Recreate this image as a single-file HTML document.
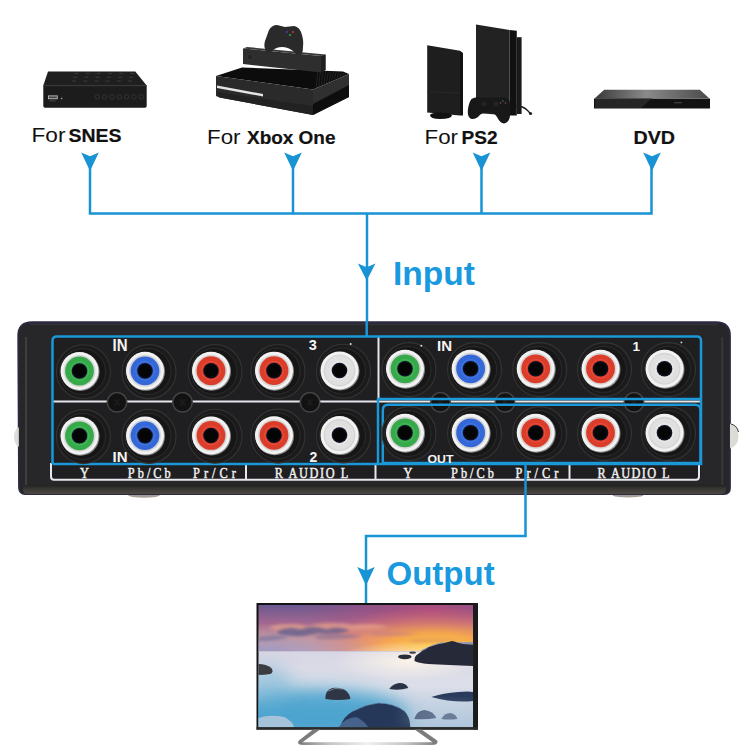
<!DOCTYPE html>
<html><head><meta charset="utf-8">
<style>
html,body{margin:0;padding:0;background:#fff;width:750px;height:750px;overflow:hidden}
svg{display:block}
text{font-family:"Liberation Sans",sans-serif}
.lbl text{font-family:"Liberation Serif",serif;font-weight:normal;fill:#f2f2f2;stroke:#f2f2f2;stroke-width:0.45}
</style></head><body>
<svg width="750" height="750" viewBox="0 0 750 750">
<defs>
  <linearGradient id="sky" x1="0" y1="0" x2="0" y2="1">
    <stop offset="0" stop-color="#6a5890"/>
    <stop offset="0.4" stop-color="#a46890"/>
    <stop offset="0.7" stop-color="#d8948a"/>
    <stop offset="1" stop-color="#d8a4a0"/>
  </linearGradient>
  <radialGradient id="skymag" cx="0.8" cy="0.1" r="0.6">
    <stop offset="0" stop-color="#b84a78" stop-opacity="0.85"/>
    <stop offset="1" stop-color="#b84a78" stop-opacity="0"/>
  </radialGradient>
  <linearGradient id="water" x1="0" y1="0" x2="0" y2="1">
    <stop offset="0" stop-color="#d8d6e4"/>
    <stop offset="0.45" stop-color="#dcdfe9"/>
    <stop offset="1" stop-color="#a8c2da"/>
  </linearGradient>
  <radialGradient id="sun" cx="0.75" cy="0.95" r="0.5">
    <stop offset="0" stop-color="#ffd27a"/>
    <stop offset="1" stop-color="#ffd27a" stop-opacity="0"/>
  </radialGradient>
<g id="jack">
    <circle cx="4" cy="0.8" r="27" fill="#1b1b1c" stroke="#343434" stroke-width="1.1"/>
    <circle cx="3" cy="0.6" r="23" fill="#161617" stroke="#2c2c2c" stroke-width="1"/>
    <circle cx="0.7" cy="0.7" r="19.3" fill="#8a8a8a"/>
    <circle r="19" fill="#f2f2f2"/>
    <circle r="16" fill="#d6d6d6"/>
  </g>
<radialGradient id="skyglow" cx="0.82" cy="0.95" r="0.6" gradientTransform="translate(0.82,0.95) scale(1,1.5) translate(-0.82,-0.95)">
    <stop offset="0" stop-color="#ffd040" stop-opacity="1"/>
    <stop offset="0.4" stop-color="#f8a848" stop-opacity="0.9"/>
    <stop offset="0.75" stop-color="#e8806a" stop-opacity="0.4"/>
    <stop offset="1" stop-color="#e07070" stop-opacity="0"/>
  </radialGradient>
  <radialGradient id="skyleft" cx="0.05" cy="1" r="0.5" gradientTransform="translate(0.05,1) scale(1,1.2) translate(-0.05,-1)">
    <stop offset="0" stop-color="#9a9ac8" stop-opacity="0.9"/>
    <stop offset="1" stop-color="#9a9ac8" stop-opacity="0"/>
  </radialGradient>
  <radialGradient id="mist" cx="0.5" cy="0.5" r="0.5">
    <stop offset="0" stop-color="#fff6ea" stop-opacity="0.9"/>
    <stop offset="1" stop-color="#fff6ea" stop-opacity="0"/>
  </radialGradient>
  <linearGradient id="foot" x1="0" y1="0" x2="1" y2="0">
    <stop offset="0" stop-color="#8a8a8a"/>
    <stop offset="0.2" stop-color="#c4c4c4"/>
    <stop offset="0.5" stop-color="#f0f0f0"/>
    <stop offset="0.8" stop-color="#c4c4c4"/>
    <stop offset="1" stop-color="#8a8a8a"/>
  </linearGradient>
  <filter id="blur05" x="-20%" y="-20%" width="140%" height="140%"><feGaussianBlur stdDeviation="0.5"/></filter>
  <filter id="blur1" x="-20%" y="-50%" width="140%" height="200%"><feGaussianBlur stdDeviation="1.5"/></filter>
  <filter id="blur2" x="-50%" y="-50%" width="200%" height="200%"><feGaussianBlur stdDeviation="6"/></filter>
<linearGradient id="dvdtop" x1="0" y1="0" x2="1" y2="0">
    <stop offset="0" stop-color="#3a3a3a"/>
    <stop offset="0.45" stop-color="#8a8a8a"/>
    <stop offset="1" stop-color="#4a4a4a"/>
  </linearGradient>
<linearGradient id="boxbottom" x1="0" y1="0" x2="0" y2="1">
    <stop offset="0" stop-color="#222"/>
    <stop offset="0.45" stop-color="#3a3834"/>
    <stop offset="1" stop-color="#4c4842"/>
  </linearGradient>
<filter id="blur3" x="-50%" y="-50%" width="200%" height="200%"><feGaussianBlur stdDeviation="9"/></filter>
</defs>
<rect width="750" height="750" fill="#fff"/>

<!-- ===== TOP DEVICES ===== -->
<g id="snes">
  <polygon points="48,71.4 135.3,71.4 146.7,85.5 43.3,85.5" fill="#1f1f1f"/>
  <g fill="#363636">
    <rect x="74.5" y="72.8" width="3.8" height="1.3"/><rect x="73.3" y="76.6" width="3.8" height="1.3"/><rect x="72.1" y="80.4" width="3.8" height="1.3"/><rect x="85.7" y="72.8" width="3.8" height="1.3"/><rect x="84.5" y="76.6" width="3.8" height="1.3"/><rect x="83.3" y="80.4" width="3.8" height="1.3"/><rect x="96.9" y="72.8" width="3.8" height="1.3"/><rect x="95.7" y="76.6" width="3.8" height="1.3"/><rect x="94.5" y="80.4" width="3.8" height="1.3"/><rect x="108.1" y="72.8" width="3.8" height="1.3"/><rect x="106.9" y="76.6" width="3.8" height="1.3"/><rect x="105.7" y="80.4" width="3.8" height="1.3"/><rect x="119.3" y="72.8" width="3.8" height="1.3"/><rect x="118.1" y="76.6" width="3.8" height="1.3"/><rect x="116.9" y="80.4" width="3.8" height="1.3"/><rect x="130.5" y="72.8" width="3.8" height="1.3"/><rect x="129.3" y="76.6" width="3.8" height="1.3"/><rect x="128.1" y="80.4" width="3.8" height="1.3"/>
  </g>
  <path d="M43.3,85.5 H146.7 V106 Q146.7,107.8 145,107.8 H45 Q43.3,107.8 43.3,106 Z" fill="#1c1c1c"/>
  <rect x="43.3" y="85.2" width="103.4" height="1" fill="#333"/>
  <rect x="48" y="95.4" width="9.8" height="3.8" fill="#b0b0b0"/>
  <rect x="49" y="96.4" width="7.8" height="1.8" fill="#444"/>
  <rect x="49.5" y="100.5" width="6" height="0.8" fill="#555"/>
  <circle cx="61.6" cy="98.4" r="0.9" fill="#888"/>
  <g fill="none" stroke="#333" stroke-width="1">
    <circle cx="97.3" cy="96.9" r="2.3"/><circle cx="104.6" cy="96.9" r="2.3"/><circle cx="112.0" cy="96.9" r="2.3"/><circle cx="119.3" cy="96.9" r="2.3"/><circle cx="126.6" cy="96.9" r="2.3"/><circle cx="133.9" cy="96.9" r="2.3"/><circle cx="141.3" cy="96.9" r="2.3"/>
  </g>
</g>
<g id="xbox">
  <polygon points="216,76 242,67.5 343,71.5 349,74 313,89.5" fill="#0c0c0c"/>
  <g stroke="#2e2e2e" stroke-width="0.7">
    <line x1="318.0" y1="70.5" x2="316.0" y2="88.0"/><line x1="320.6" y1="70.8" x2="318.6" y2="86.8"/><line x1="323.2" y1="71.0" x2="321.2" y2="85.5"/><line x1="325.8" y1="71.2" x2="323.8" y2="84.2"/><line x1="328.4" y1="71.5" x2="326.4" y2="83.0"/><line x1="331.0" y1="71.8" x2="329.0" y2="81.8"/><line x1="333.6" y1="72.0" x2="331.6" y2="80.5"/><line x1="336.2" y1="72.2" x2="334.2" y2="79.2"/><line x1="338.8" y1="72.5" x2="336.8" y2="78.0"/><line x1="341.4" y1="72.8" x2="339.4" y2="76.8"/><line x1="344.0" y1="73.0" x2="342.0" y2="75.5"/><line x1="346.6" y1="73.2" x2="344.6" y2="74.2"/>
  </g>
  <polygon points="216,76 313,89.5 313,115 219.5,97.5 216,96" fill="#2a2a2a"/>
  <polygon points="217,92 313,106 313,115 219.5,97.5" fill="#222"/>
  <polygon points="313,89.5 349,74 349,97 313,115" fill="#303030"/>
  <polygon points="313,104 349,85 349,97 313,115" fill="#0e0e0e"/>
  <polygon points="217,85.5 263,94 263,96.5 217,88" fill="#e4e4e4"/>
  <polygon points="243,48.5 321,56 325.5,54.5 325.5,70 321,72.5 243,64" fill="#2e2e2e"/>
  <polygon points="243,48.5 247,47 325.5,54.5 321,56" fill="#3a3a3a"/>
  <polygon points="321,56 325.5,54.5 325.5,70 321,72.5" fill="#1e1e1e"/>
  <circle cx="250" cy="57" r="3" fill="#242424" stroke="#3a3a3a" stroke-width="0.8"/>
  <path d="M267,53 Q263,47 265,41 L269,30 Q272,25 277,25 L285,27 L294,26 Q299,27 301,32 Q304,40 303,47 Q303,55 299,55 Q296,55 293,51 Q288,47 282,47 Q276,47 272,51 Q270,55 267,53 Z" fill="#2a2a2a"/>
  <circle cx="293" cy="32" r="1" fill="#c33"/><circle cx="290" cy="35" r="1" fill="#3a3"/><circle cx="287" cy="32" r="1" fill="#34c"/>
</g>
<g id="ps2">
  <polygon points="427.2,45.2 460,50.8 460,115.5 427.2,112.4" fill="#1e1e1e"/>
  <polygon points="460,50.8 463,53 463,115.6 460,115.5" fill="#121212"/>
  <line x1="427.2" y1="91.6" x2="460" y2="93.2" stroke="#2c2c2c" stroke-width="0.8"/>
  <path d="M430,115 Q431,112.5 440,112.5 Q450,112.5 452,115 Q452,119 440,119 Q430,119 430,115 Z" fill="#111"/>
  <polygon points="476,24.4 509.6,30 509.6,115.6 476,113" fill="#222"/>
  <polygon points="509.6,30 516.8,30.8 516.8,115.6 509.6,115.6" fill="#111"/>
  <polygon points="516.8,37.2 521.6,37.2 521.6,114 516.8,114" fill="#1a1a1a"/>
  <path d="M516,106 Q523,106 527,110 Q529,112 530,113" stroke="#1e1e1e" stroke-width="1.4" fill="none"/>
  <circle cx="530.5" cy="113.5" r="1.6" fill="#1e1e1e"/>
  <path d="M471.5,99 Q475,96.5 480,97.5 L500,97.5 Q507,96.5 509.5,101 Q511,108 510,116 Q509,123 504,123.5 Q500,123 497,117 Q494,112 488,112 Q482,112 478,117 Q474,120 470.5,118.5 Q467,116 468,109 Q469,102 471.5,99 Z" fill="#181818"/>
  <circle cx="484" cy="104" r="2.4" fill="#242424"/>
  <circle cx="496" cy="104" r="2.4" fill="#242424"/>
  <circle cx="503" cy="101" r="0.8" fill="#3a7a5a"/><circle cx="500.5" cy="103" r="0.8" fill="#8a4a6a"/><circle cx="505.5" cy="103" r="0.8" fill="#8a4a4a"/>
</g>
<g id="dvd">
  <polygon points="604.2,89.7 699.8,89.7 709.2,98.2 594.8,98.2" fill="url(#dvdtop)"/>
  <path d="M594,98.5 H710 V108.5 H594 Z" fill="#121212"/>
  <polygon points="595,98.5 652,98.5 641,108 595,108" fill="#262626"/>
  <rect x="674" y="102" width="8" height="1.4" fill="#3a3a3a"/>
</g>

<g id="toplabels" fill="#111">
  <text x="31.5" y="141.8" font-size="21" textLength="34" lengthAdjust="spacingAndGlyphs">For</text>
  <text x="68.5" y="141.8" font-size="18.3" font-weight="bold" textLength="53" lengthAdjust="spacingAndGlyphs" stroke="#111" stroke-width="0.2">SNES</text>
  <text x="207" y="143.6" font-size="21" textLength="33.5" lengthAdjust="spacingAndGlyphs">For</text>
  <text x="247" y="143.6" font-size="18.3" font-weight="bold" textLength="88.5" lengthAdjust="spacingAndGlyphs" stroke="#111" stroke-width="0.2">Xbox One</text>
  <text x="424.5" y="143.7" font-size="21" textLength="33.5" lengthAdjust="spacingAndGlyphs">For</text>
  <text x="461.5" y="143.7" font-size="18.3" font-weight="bold" textLength="36" lengthAdjust="spacingAndGlyphs" stroke="#111" stroke-width="0.2">PS2</text>
  <text x="633.5" y="143.5" font-size="18.3" font-weight="bold" textLength="41.5" lengthAdjust="spacingAndGlyphs" stroke="#111" stroke-width="0.2">DVD</text>
</g>

<!-- ===== BLUE INPUT LINES ===== -->
<g id="inlines" stroke="#1893d4" stroke-width="2.5" fill="none">
  <path d="M90,160 V213.5 H651.5 V160"/>
  <path d="M293,160 V213.5"/>
  <path d="M481.5,160 V213.5"/>
  <path d="M367,213.5 V337"/>
</g>
<g fill="#1893d4">
  <path d="M81.2,152.5 L90,156.3 L98.8,152.5 L90,171.0 Z"/>
  <path d="M284.2,152.5 L293,156.3 L301.8,152.5 L293,171.0 Z"/>
  <path d="M472.7,152.5 L481.5,156.3 L490.3,152.5 L481.5,171.0 Z"/>
  <path d="M643.2,152.5 L652,156.3 L660.8,152.5 L652,171.0 Z"/>
  <path d="M357.9,263.5 L366.7,267.3 L375.5,263.5 L366.7,280.5 Z"/>
  <text x="393" y="284.8" font-size="33.5" font-weight="bold" fill="#1a9ade">Input</text>
</g>

<!-- ===== SWITCH BOX ===== -->
<g id="box">
  <g id="feet" fill="#8e867e" opacity="0.8" filter="url(#blur05)"><ellipse cx="144" cy="495" rx="16" ry="2.8"/><ellipse cx="628" cy="495" rx="15.5" ry="2.6"/></g>
  <path d="M32,322.2 H716 Q730,322.2 730,336 V488 Q730,494 724,494 H25 Q19.5,494 19,488 L18.2,336 Q18.2,322.2 32,322.2 Z" fill="#27272a" stroke="#2c2a42" stroke-width="1.8"/>
  <rect x="52.5" y="336.5" width="648.5" height="143.5" rx="4" fill="#1f1f21"/>
  <path d="M30,324.3 H718" stroke="#303038" stroke-width="2"/>
  <path d="M26,337 V486 Q26,490 28,491" stroke="#444" stroke-width="1.8" fill="none" opacity="0.9"/>
  <path d="M722.3,337 V486" stroke="#3c3c3c" stroke-width="1.8" opacity="0.9"/>
  <path d="M24,485 H726 V489 Q726,494 721,494 H27 Q23,494 23,489 Z" fill="url(#boxbottom)"/>
  <path d="M19,427 Q14,430 14,437 Q14,444 19,447 Z" fill="#d8d8d0" opacity="0.85"/>
  <path d="M730,423.5 Q738.5,426 738.5,436 Q738.5,446 730,448.5 Z" fill="#dcdcd4"/><path d="M731,424 Q737,425.5 738.5,432" stroke="#333" stroke-width="1" fill="none"/>
  <!-- white lines -->
  <g stroke="#e6e6ee" stroke-width="2" fill="none">
    <path d="M53,401.6 H700"/>
    <path d="M378.5,337 V398"/>
    <path d="M51,463 V476.5 Q51,479.8 54,479.8 H696 Q699,479.8 699,476.5 V463"/>
    <path d="M246,465 V479.5 M375.5,465 V479.5 M569.5,465 V479.5"/>
  </g>
  <g transform="translate(117,402.3)"><circle r="9.8" fill="#121212" stroke="#444" stroke-width="1.5"/><path d="M-2.5,-3 L2.5,3 M2.5,-3 L-2.5,3" stroke="#1c1c1c" stroke-width="2"/></g><g transform="translate(182.5,402.3)"><circle r="9.8" fill="#121212" stroke="#444" stroke-width="1.5"/><path d="M-2.5,-3 L2.5,3 M2.5,-3 L-2.5,3" stroke="#1c1c1c" stroke-width="2"/></g><g transform="translate(310,402.3)"><circle r="9.8" fill="#121212" stroke="#444" stroke-width="1.5"/><path d="M-2.5,-3 L2.5,3 M2.5,-3 L-2.5,3" stroke="#1c1c1c" stroke-width="2"/></g><g transform="translate(440.5,402.3)"><circle r="9.8" fill="#121212" stroke="#444" stroke-width="1.5"/><path d="M-2.5,-3 L2.5,3 M2.5,-3 L-2.5,3" stroke="#1c1c1c" stroke-width="2"/></g><g transform="translate(505,402.3)"><circle r="9.8" fill="#121212" stroke="#444" stroke-width="1.5"/><path d="M-2.5,-3 L2.5,3 M2.5,-3 L-2.5,3" stroke="#1c1c1c" stroke-width="2"/></g><g transform="translate(634,402.3)"><circle r="9.8" fill="#121212" stroke="#444" stroke-width="1.5"/><path d="M-2.5,-3 L2.5,3 M2.5,-3 L-2.5,3" stroke="#1c1c1c" stroke-width="2"/></g>
  <!-- blue frames -->
  <g stroke="#1b98d8" stroke-width="2.5" fill="none">
    <path d="M52.5,464 V341 Q52.5,336.5 57,336.5 H697 Q701,336.5 701,341 V464 H52.5"/>
    <path d="M378,464 V399 H701"/>
    <path d="M366.7,321 V337"/>
    <path d="M388,404.8 H695 Q700.5,404.8 700.5,410.3 V463 H382.8 V410.3 Q382.8,404.8 388,404.8 Z"/>
  </g>
  <g transform="translate(79.5,371.0)"><use href="#jack"/><circle r="14.4" fill="#36aa4a"/><circle r="9.3" fill="none" stroke="#5cc86a" stroke-width="1" opacity="0.5"/><circle r="7.8" fill="#0c1020"/><circle r="6.3" fill="#050505"/></g>
  <g transform="translate(145,370.87)"><use href="#jack"/><circle r="14.4" fill="#3468d8"/><circle r="9.3" fill="none" stroke="#5a86e6" stroke-width="1" opacity="0.5"/><circle r="7.8" fill="#0c1020"/><circle r="6.3" fill="#050505"/></g>
  <g transform="translate(211,370.75)"><use href="#jack"/><circle r="14.4" fill="#dc3c2a"/><circle r="9.3" fill="none" stroke="#f0664e" stroke-width="1" opacity="0.5"/><circle r="7.8" fill="#0c1020"/><circle r="6.3" fill="#050505"/></g>
  <g transform="translate(274,370.63)"><use href="#jack"/><circle r="14.4" fill="#dc3c2a"/><circle r="9.3" fill="none" stroke="#f0664e" stroke-width="1" opacity="0.5"/><circle r="7.8" fill="#0c1020"/><circle r="6.3" fill="#050505"/></g>
  <g transform="translate(339.5,370.5)"><use href="#jack"/><circle r="14.4" fill="#e0e0e0"/><circle r="9.3" fill="none" stroke="#f4f4f4" stroke-width="1" opacity="0.5"/><circle r="7.8" fill="#0c1020"/><circle r="6.3" fill="#050505"/></g>
  <g transform="translate(405,368.8)"><use href="#jack"/><circle r="14.4" fill="#36aa4a"/><circle r="9.3" fill="none" stroke="#5cc86a" stroke-width="1" opacity="0.5"/><circle r="7.8" fill="#0c1020"/><circle r="6.3" fill="#050505"/></g>
  <g transform="translate(470.6,368.8)"><use href="#jack"/><circle r="14.4" fill="#3468d8"/><circle r="9.3" fill="none" stroke="#5a86e6" stroke-width="1" opacity="0.5"/><circle r="7.8" fill="#0c1020"/><circle r="6.3" fill="#050505"/></g>
  <g transform="translate(535.7,368.8)"><use href="#jack"/><circle r="14.4" fill="#dc3c2a"/><circle r="9.3" fill="none" stroke="#f0664e" stroke-width="1" opacity="0.5"/><circle r="7.8" fill="#0c1020"/><circle r="6.3" fill="#050505"/></g>
  <g transform="translate(600.5,368.8)"><use href="#jack"/><circle r="14.4" fill="#dc3c2a"/><circle r="9.3" fill="none" stroke="#f0664e" stroke-width="1" opacity="0.5"/><circle r="7.8" fill="#0c1020"/><circle r="6.3" fill="#050505"/></g>
  <g transform="translate(664.5,368.8)"><use href="#jack"/><circle r="14.4" fill="#e0e0e0"/><circle r="9.3" fill="none" stroke="#f4f4f4" stroke-width="1" opacity="0.5"/><circle r="7.8" fill="#0c1020"/><circle r="6.3" fill="#050505"/></g>
  <g transform="translate(79.5,435.8)"><use href="#jack"/><circle r="14.4" fill="#36aa4a"/><circle r="9.3" fill="none" stroke="#5cc86a" stroke-width="1" opacity="0.5"/><circle r="7.8" fill="#0c1020"/><circle r="6.3" fill="#050505"/></g>
  <g transform="translate(145,435.62)"><use href="#jack"/><circle r="14.4" fill="#3468d8"/><circle r="9.3" fill="none" stroke="#5a86e6" stroke-width="1" opacity="0.5"/><circle r="7.8" fill="#0c1020"/><circle r="6.3" fill="#050505"/></g>
  <g transform="translate(211,435.45)"><use href="#jack"/><circle r="14.4" fill="#dc3c2a"/><circle r="9.3" fill="none" stroke="#f0664e" stroke-width="1" opacity="0.5"/><circle r="7.8" fill="#0c1020"/><circle r="6.3" fill="#050505"/></g>
  <g transform="translate(274,435.28)"><use href="#jack"/><circle r="14.4" fill="#dc3c2a"/><circle r="9.3" fill="none" stroke="#f0664e" stroke-width="1" opacity="0.5"/><circle r="7.8" fill="#0c1020"/><circle r="6.3" fill="#050505"/></g>
  <g transform="translate(339.5,435.1)"><use href="#jack"/><circle r="14.4" fill="#e0e0e0"/><circle r="9.3" fill="none" stroke="#f4f4f4" stroke-width="1" opacity="0.5"/><circle r="7.8" fill="#0c1020"/><circle r="6.3" fill="#050505"/></g>
  <g transform="translate(405,432.8)"><use href="#jack"/><circle r="14.4" fill="#36aa4a"/><circle r="9.3" fill="none" stroke="#5cc86a" stroke-width="1" opacity="0.5"/><circle r="7.8" fill="#0c1020"/><circle r="6.3" fill="#050505"/></g>
  <g transform="translate(470.6,432.8)"><use href="#jack"/><circle r="14.4" fill="#3468d8"/><circle r="9.3" fill="none" stroke="#5a86e6" stroke-width="1" opacity="0.5"/><circle r="7.8" fill="#0c1020"/><circle r="6.3" fill="#050505"/></g>
  <g transform="translate(535.7,432.8)"><use href="#jack"/><circle r="14.4" fill="#dc3c2a"/><circle r="9.3" fill="none" stroke="#f0664e" stroke-width="1" opacity="0.5"/><circle r="7.8" fill="#0c1020"/><circle r="6.3" fill="#050505"/></g>
  <g transform="translate(600.5,432.8)"><use href="#jack"/><circle r="14.4" fill="#dc3c2a"/><circle r="9.3" fill="none" stroke="#f0664e" stroke-width="1" opacity="0.5"/><circle r="7.8" fill="#0c1020"/><circle r="6.3" fill="#050505"/></g>
  <g transform="translate(664.5,432.8)"><use href="#jack"/><circle r="14.4" fill="#e0e0e0"/><circle r="9.3" fill="none" stroke="#f4f4f4" stroke-width="1" opacity="0.5"/><circle r="7.8" fill="#0c1020"/><circle r="6.3" fill="#050505"/></g>
  <g id="dots" fill="#d8d8d8"><circle cx="350.7" cy="344" r="1"/><circle cx="421.3" cy="345.8" r="1"/><circle cx="681.4" cy="342.4" r="0.9"/></g>
  <g fill="#f4f4f4" font-size="14" font-weight="bold">
    <text x="112.5" y="351" font-size="16" textLength="15" lengthAdjust="spacingAndGlyphs">IN</text>
    <text x="112.5" y="462" font-size="15.5" textLength="15" lengthAdjust="spacingAndGlyphs">IN</text>
    <text x="437" y="351" font-size="15.5" textLength="15" lengthAdjust="spacingAndGlyphs">IN</text>
    <text x="427.5" y="463" font-size="11.5" textLength="26" lengthAdjust="spacingAndGlyphs">OUT</text>
    <text x="308.8" y="349.5" font-size="14.5">3</text>
    <text x="309.5" y="461.5" font-size="14">2</text>
    <text x="632.5" y="351" font-size="13.5">1</text>
  </g>
  <g class="lbl" font-size="15">
    <text transform="translate(80,478.2) scale(0.82,1)" x="0" y="0">Y</text>
    <text transform="translate(127.8,478.2) scale(0.82,1)" x="0" y="0" textLength="52.4" lengthAdjust="spacing">Pb/Cb</text>
    <text transform="translate(193,478.2) scale(0.82,1)" x="0" y="0" textLength="52.4" lengthAdjust="spacing">Pr/Cr</text>
    <text transform="translate(274.8,478.2) scale(0.82,1)" x="0" y="0" textLength="89.6" lengthAdjust="spacing">R AUDIO L</text>
    <text transform="translate(403.5,478.2) scale(0.82,1)" x="0" y="0">Y</text>
    <text transform="translate(451,478.2) scale(0.82,1)" x="0" y="0" textLength="52.4" lengthAdjust="spacing">Pb/Cb</text>
    <text transform="translate(515.5,478.2) scale(0.82,1)" x="0" y="0" textLength="52.4" lengthAdjust="spacing">Pr/Cr</text>
    <text transform="translate(597.5,478.2) scale(0.82,1)" x="0" y="0" textLength="87.8" lengthAdjust="spacing">R AUDIO L</text>
  </g>
</g>

<!-- ===== OUTPUT LINES ===== -->
<g stroke="#1893d4" stroke-width="2.5" fill="none">
  <path d="M525.5,464 V536 H366 V603"/>
</g>
<g fill="#1893d4">
  <path d="M357.3,567 L366,570.8 L374.7,567 L366,585.5 Z"/>
  <text x="386.5" y="585" font-size="33" font-weight="bold" fill="#1a9ade">Output</text>
</g>

<!-- ===== TV ===== -->
<g id="tv">
  <rect x="256.5" y="603" width="221.5" height="126.5" fill="#141414"/>
  <svg x="258.3" y="605" width="215" height="122.3" viewBox="0 0 215 122.3" overflow="hidden">
    <rect width="215" height="46.5" fill="url(#sky)"/>
    <rect width="215" height="46.5" fill="url(#skymag)"/>
    <rect width="215" height="46.5" fill="url(#skyglow)"/>
    <rect width="215" height="46.5" fill="url(#skyleft)"/>
    <g filter="url(#blur1)">
      <path d="M10,22 Q30,16 50,21 Q70,15 95,20 Q115,17 130,22 Q110,26 85,25 Q60,29 35,27 Q18,27 10,22Z" fill="#f0a888" opacity="0.6"/>
      <path d="M18,26 Q30,20 42,24 Q55,19 68,24 Q80,20 92,25 Q78,30 60,28 Q42,33 28,30 Q20,30 18,26Z" fill="#5a5a8c" opacity="0.75"/>
      <path d="M0,32 Q15,29 32,32 Q20,36 0,36Z" fill="#6a6a9a" opacity="0.6"/>
      <path d="M55,31 Q80,27 105,31 Q85,35 60,34Z" fill="#7a6a98" opacity="0.55"/>
      <path d="M110,28 Q135,24 160,29 Q140,32 115,31Z" fill="#c07a88" opacity="0.45"/>
      <path d="M150,35 Q175,32 205,35 Q180,38 155,38Z" fill="#d08070" opacity="0.4"/>
    </g>
    <rect y="46" width="215" height="77" fill="url(#water)"/>
    <ellipse cx="150" cy="56" rx="75" ry="20" fill="url(#mist)"/>
    <ellipse cx="55" cy="110" rx="95" ry="26" fill="#3a9ecc" opacity="0.85" filter="url(#blur3)"/>
    <ellipse cx="8" cy="80" rx="25" ry="20" fill="#70b4d6" opacity="0.5" filter="url(#blur3)"/>
    <line x1="0" y1="46.3" x2="215" y2="46.3" stroke="#8a7a9a" stroke-width="0.5" opacity="0.5"/>
    <!-- rocks -->
    <g filter="url(#blur05)">
      <path d="M0,59 Q8,59 13,63 Q16,67 12,69 Q6,70 0,70Z" fill="#3a3a42"/>
      <path d="M161.7,46 Q170,41 182.3,37.5 L215,37 V44 L175,46 Z" fill="#8a96bc" opacity="0.9"/>
      <path d="M156.2,56 Q156,51 159.2,49.5 Q163,46 167.4,44.3 Q170,42 173.4,41.3 Q180,39 185.3,38.3 L193.7,36 Q196,36 198.7,37.5 L204.7,39 L215,39.8 V61 Q190,60 170,59 Q160,58 156.2,56Z" fill="#252a38"/>
      <ellipse cx="146.5" cy="51.8" rx="6.7" ry="2.4" fill="#2c2e38"/>
      <ellipse cx="154.3" cy="47.6" rx="3.4" ry="1.2" fill="#3a3c46"/>
      <path d="M67,94 Q67,85 74,83 Q82,82 88,86 Q92,90 92,94 Q80,96 67,94Z" fill="#2e3444"/>
      <path d="M70,86 Q76,82 84,84" stroke="#9aa8b8" stroke-width="1" fill="none" opacity="0.7"/>
      <path d="M131,84 Q134,79 141,78 Q148,78 150,83 Q141,86 131,84Z" fill="#2a3246"/>
      <path d="M82,122.3 Q84,112 95,106 Q108,99 120,98 Q135,98 146,106 Q152,112 152,122.3Z" fill="#26385a"/>
      <path d="M80,122.3 Q86,113 98,112 Q106,116 110,122.3Z" fill="#4a6890" opacity="0.9"/>
      <path d="M95,106 Q108,99 120,98 Q135,98 146,106" stroke="#7a9ac0" stroke-width="1" fill="none" opacity="0.6"/>
      <path d="M173,92 Q185,88 200,87 Q210,86 215,87 V96 Q195,98 173,92Z" fill="#2a3a5c"/>
      <path d="M156,114 Q158,106 166,105 Q175,106 178,113 Q168,115 156,114Z" fill="#34486a" opacity="0.9"/>
      <path d="M183,114 Q186,108 192,108 Q198,109 199,114 Q190,115 183,114Z" fill="#3a4e70" opacity="0.85"/>
      <path d="M0,113 Q12,109 26,112 Q34,116 36,122.3 H0Z" fill="#b4c8dc" opacity="0.85"/>
    </g>
    <ellipse cx="185" cy="112" rx="40" ry="10" fill="#c8d4e4" opacity="0.35" filter="url(#blur3)"/>
  </svg>
  <rect x="473.3" y="603" width="4.5" height="126.5" fill="#1c1c1c"/>
  <rect x="256.5" y="727.3" width="221.5" height="2.4" fill="#2a2a2a"/>
  <g fill="#7c7c7c">
    <path d="M313,729.6 L320,729.6 L303.5,741.5 Q301.5,743 304,743 L304,745 Q298,745 298,742.5 Q298,741 299.5,740 Z"/>
    <path d="M414.5,729.6 L421.5,729.6 L436.5,740 Q438,741 437.5,742.5 Q437,745 431,745 L431,743 Q433.5,743 431.5,741.5 Z"/>
  </g>
  <rect x="303" y="742.2" width="129" height="2.8" fill="url(#foot)"/>
</g>
</svg>
</body></html>
